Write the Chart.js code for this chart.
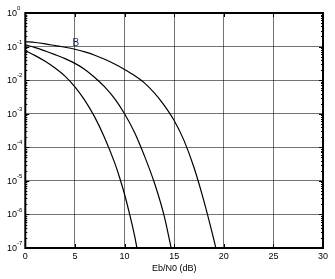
<!DOCTYPE html>
<html>
<head>
<meta charset="utf-8">
<script src="https://cdn.jsdelivr.net/npm/chart.js@4/dist/chart.umd.min.js"></script>
<style>
  body { margin: 0; background: #fff; }
  canvas { display: block; }
</style>
</head>
<body>
<canvas id="berChart" width="335" height="279"></canvas>
<script>
// values
const ebn0A = [0, 1, 2, 3, 4, 5, 6, 7, 8, 9, 9.5, 10, 10.5, 11, 11.25];
const berA  = [0.076, 0.0537, 0.0363, 0.0229, 0.0132, 0.0063, 0.0025, 7.9e-4, 1.9e-4, 3.5e-5, 1.26e-5, 4e-6, 1.05e-6, 2.4e-7, 1e-7];

const ebn0B = [0, 1, 2, 3, 4, 5, 6, 7, 8, 9, 10, 11, 12, 13, 14, 14.7];
const berB  = [0.112, 0.0933, 0.0741, 0.0575, 0.0437, 0.0316, 0.0209, 0.012, 0.0063, 0.00282, 1e-3, 2.82e-4, 5.6e-5, 8.9e-6, 8.9e-7, 1e-7];

const ebn0C = [0, 1, 2, 3, 4, 5, 6, 7, 8, 9, 10, 11, 12, 13, 14, 15, 16, 17, 18, 19, 19.2];
const berC  = [0.141, 0.132, 0.12, 0.107, 0.0955, 0.0832, 0.0692, 0.055, 0.0417, 0.0302, 0.0209, 0.0138, 0.0083, 0.00417, 0.00178, 6.3e-4, 1.58e-4, 2.5e-5, 2.5e-6, 1.78e-7, 1e-7];

const xTicks = [0, 5, 10, 15, 20, 25, 30];
const yExps = [0, -1, -2, -3, -4, -5, -6, -7];
const xTitle = 'Eb/N0 (dB)';
const curveLabel = { text: 'B', x: 4.75, y: 0.1 };

function pts(xs, ys) {
  return xs.map((x, i) => ({ x: x, y: ys[i] }));
}

function curve(xs, ys) {
  return {
    data: pts(xs, ys),
    borderColor: '#000',
    borderWidth: 1.2,
    pointRadius: 0,
    fill: false,
    cubicInterpolationMode: 'monotone'
  };
}

const FONT = '"Liberation Sans", Arial, sans-serif';

const decor = {
  id: 'decor',
  afterDraw(chart) {
    const ctx = chart.ctx;
    const xs = chart.scales.x, ys = chart.scales.y;
    const a = chart.chartArea;
    ctx.save();
    ctx.strokeStyle = '#000';
    ctx.lineWidth = 1;

    // minor ticks on left/right edges
    yExps.forEach(e => {
      if (e === 0) return;
      for (let m = 2; m <= 9; m++) {
        const py = Math.round(ys.getPixelForValue(m * Math.pow(10, e))) + 0.5;
        ctx.beginPath();
        ctx.moveTo(a.left, py); ctx.lineTo(a.left + 2, py);
        ctx.moveTo(a.right, py); ctx.lineTo(a.right - 2, py);
        ctx.stroke();
      }
    });
    // major ticks
    yExps.forEach(e => {
      const py = Math.round(ys.getPixelForValue(Math.pow(10, e))) + 0.5;
      ctx.beginPath();
      ctx.moveTo(a.left, py); ctx.lineTo(a.left + 4, py);
      ctx.moveTo(a.right, py); ctx.lineTo(a.right - 4, py);
      ctx.stroke();
    });
    xTicks.forEach(v => {
      const px = Math.round(xs.getPixelForValue(v)) + 0.5;
      ctx.beginPath();
      ctx.moveTo(px, a.bottom); ctx.lineTo(px, a.bottom - 4);
      ctx.moveTo(px, a.top); ctx.lineTo(px, a.top + 4);
      ctx.stroke();
    });

    // frame
    ctx.lineWidth = 2;
    ctx.strokeRect(a.left, a.top, a.right - a.left, a.bottom - a.top);

    // tick labels
    ctx.fillStyle = '#000';
    ctx.textBaseline = 'middle';
    ctx.textAlign = 'center';
    ctx.font = '9px ' + FONT;
    xTicks.forEach(v => {
      ctx.fillText(String(v), xs.getPixelForValue(v), 257);
    });
    yExps.forEach(e => {
      const py = ys.getPixelForValue(Math.pow(10, e));
      ctx.textAlign = 'left';
      ctx.font = '9px ' + FONT;
      ctx.fillText('10', 7, py + 0.5);
      const w = ctx.measureText('10').width;
      ctx.font = '6px ' + FONT;
      ctx.fillText(e === 0 ? '0' : '-' + Math.abs(e), 7 + w, py - 4.5);
    });

    // axis title
    ctx.textAlign = 'center';
    ctx.font = '9px ' + FONT;
    ctx.fillText(xTitle, (a.left + a.right) / 2, 269);

    // curve label
    ctx.fillStyle = '#1a2650';
    ctx.textAlign = 'left';
    ctx.textBaseline = 'alphabetic';
    ctx.font = '10px ' + FONT;
    ctx.fillText(curveLabel.text, xs.getPixelForValue(curveLabel.x), ys.getPixelForValue(curveLabel.y) - 0.5);
    ctx.restore();
  }
};

new Chart(document.getElementById('berChart'), {
  type: 'line',
  data: {
    datasets: [curve(ebn0A, berA), curve(ebn0B, berB), curve(ebn0C, berC)]
  },
  options: {
    responsive: false,
    devicePixelRatio: 1,
    animation: false,
    layout: { padding: { top: 13, right: 12, left: 0, bottom: 0 } },
    plugins: { legend: { display: false }, tooltip: { enabled: false } },
    scales: {
      x: {
        type: 'linear',
        min: 0, max: 30,
        afterBuildTicks: s => { s.ticks = xTicks.map(v => ({ value: v })); },
        afterFit: s => { s.height = 31; },
        ticks: { display: false },
        border: { display: false },
        grid: { color: 'rgba(0,0,0,0.55)', borderDash: [1, 1], drawTicks: false, lineWidth: 1 }
      },
      y: {
        type: 'logarithmic',
        min: 1e-7, max: 1,
        afterBuildTicks: s => { s.ticks = yExps.map(e => ({ value: Math.pow(10, e), major: true })); },
        afterFit: s => { s.width = 25.3; },
        ticks: { display: false },
        border: { display: false },
        grid: { color: 'rgba(0,0,0,0.55)', borderDash: [1, 1], drawTicks: false, lineWidth: 1 }
      }
    }
  },
  plugins: [decor]
});
</script>
</body>
</html>
